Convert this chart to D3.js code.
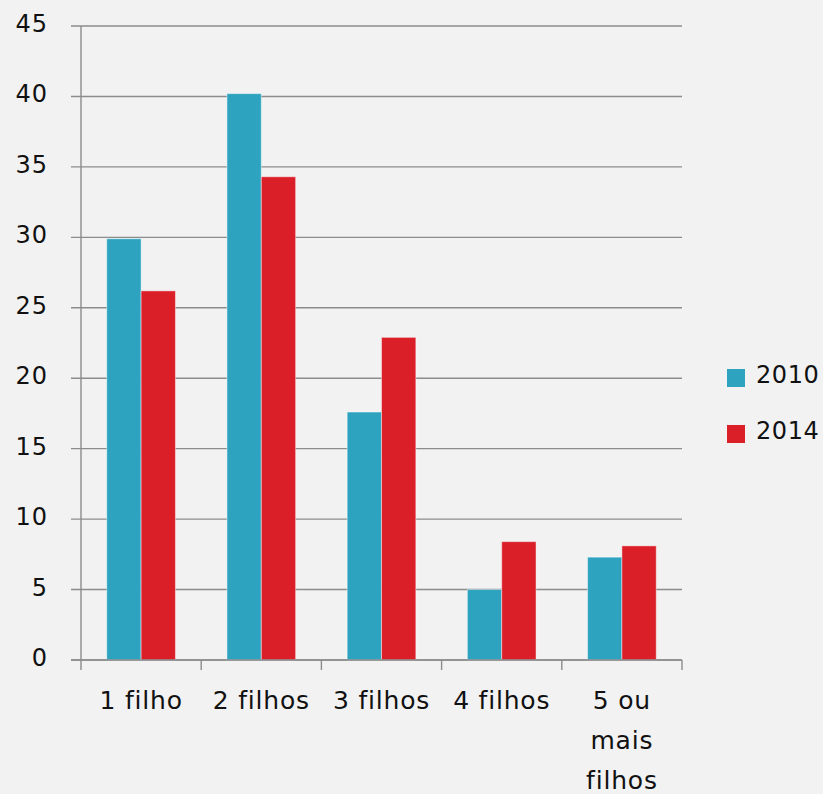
<!DOCTYPE html>
<html>
<head>
<meta charset="utf-8">
<script src="https://cdn.jsdelivr.net/npm/d3@7"></script>
<style>
  html, body { margin: 0; padding: 0; background: #f2f2f2; }
  svg { display: block; }
  text { font-family: "DejaVu Sans", sans-serif; fill: #111; }
</style>
</head>
<body>
<svg id="chart" width="823" height="794"></svg>
<script>
// Categories (number of children) and percentage shares per year
const categories = ["1 filho", "2 filhos", "3 filhos", "4 filhos", "5 ou mais filhos"];
const series = ["2010", "2014"];
const values2010 = [29.9, 40.2, 17.6, 5.0, 7.3];
const values2014 = [26.2, 34.3, 22.9, 8.4, 8.1];
const yTicks = [0, 5, 10, 15, 20, 25, 30, 35, 40, 45];
const colors = { "2010": "#2da3bf", "2014": "#da1f29" };

const seriesValues = { "2010": values2010, "2014": values2014 };
const svg = d3.select("#chart");

const plotLeft = 81, plotRight = 682, plotTop = 26, plotBottom = 660;

const x = d3.scaleBand().domain(categories).range([plotLeft, plotRight]).padding(0);
const x1 = d3.scaleBand().domain(series).range([0, x.bandwidth()])
  .paddingInner(0).paddingOuter(0.75);
const y = d3.scaleLinear().domain([0, 45]).range([plotBottom, plotTop]);

// Horizontal gridlines (extend slightly left of the axis as ticks)
svg.append("g").selectAll("line").data(yTicks).join("line")
  .attr("x1", plotLeft - 10).attr("x2", plotRight)
  .attr("y1", d => y(d)).attr("y2", d => y(d))
  .attr("stroke", "#8c8c8c").attr("stroke-width", 1.4);

// Y axis labels
svg.append("g").selectAll("text").data(yTicks).join("text")
  .attr("x", 48).attr("y", d => y(d) + 6)
  .attr("text-anchor", "end")
  .attr("font-size", 24)
  .attr("letter-spacing", 1)
  .text(d => d);

// Bars
const groups = svg.append("g").selectAll("g").data(categories).join("g")
  .attr("transform", d => `translate(${x(d)},0)`);
groups.selectAll("rect")
  .data((c, i) => series.map(s => ({ s, v: seriesValues[s][i] })))
  .join("rect")
  .attr("x", d => x1(d.s))
  .attr("width", x1.bandwidth())
  .attr("y", d => y(d.v))
  .attr("height", d => y(0) - y(d.v))
  .attr("fill", d => colors[d.s])
  .attr("stroke", "rgba(255,255,255,0.45)")
  .attr("stroke-width", 1);

// Vertical axis line
svg.append("line")
  .attr("x1", plotLeft).attr("x2", plotLeft).attr("y1", plotTop).attr("y2", plotBottom)
  .attr("stroke", "#8c8c8c").attr("stroke-width", 1.4);

// Baseline and category boundary ticks
svg.append("line")
  .attr("x1", plotLeft - 10).attr("x2", plotRight).attr("y1", plotBottom).attr("y2", plotBottom)
  .attr("stroke", "#8c8c8c").attr("stroke-width", 1.6);
const bounds = categories.map(c => x(c)).concat([plotRight]);
svg.append("g").selectAll("line").data(bounds).join("line")
  .attr("x1", d => d).attr("x2", d => d)
  .attr("y1", plotBottom).attr("y2", plotBottom + 10)
  .attr("stroke", "#8c8c8c").attr("stroke-width", 1.4);

// Category labels (wrapped word-by-word for the last one)
const labelLines = { "5 ou mais filhos": ["5 ou", "mais", "filhos"] };
svg.append("g").selectAll("text").data(categories).join("text")
  .attr("text-anchor", "middle")
  .attr("font-size", 25)
  .attr("letter-spacing", 0.8)
  .each(function (c) {
    const lines = labelLines[c] || [c];
    d3.select(this).selectAll("tspan").data(lines).join("tspan")
      .attr("x", x(c) + x.bandwidth() / 2)
      .attr("y", (l, i) => plotBottom + 49 + i * 40)
      .text(l => l);
  });

// Legend
const legend = svg.append("g").selectAll("g").data(series).join("g")
  .attr("transform", (d, i) => `translate(727,${369 + i * 56})`);
legend.append("rect").attr("width", 18).attr("height", 18)
  .attr("fill", d => colors[d]);
legend.append("text").attr("x", 29).attr("y", 14).attr("font-size", 24)
  .attr("letter-spacing", 0.6)
  .text(d => d);
</script>
</body>
</html>
